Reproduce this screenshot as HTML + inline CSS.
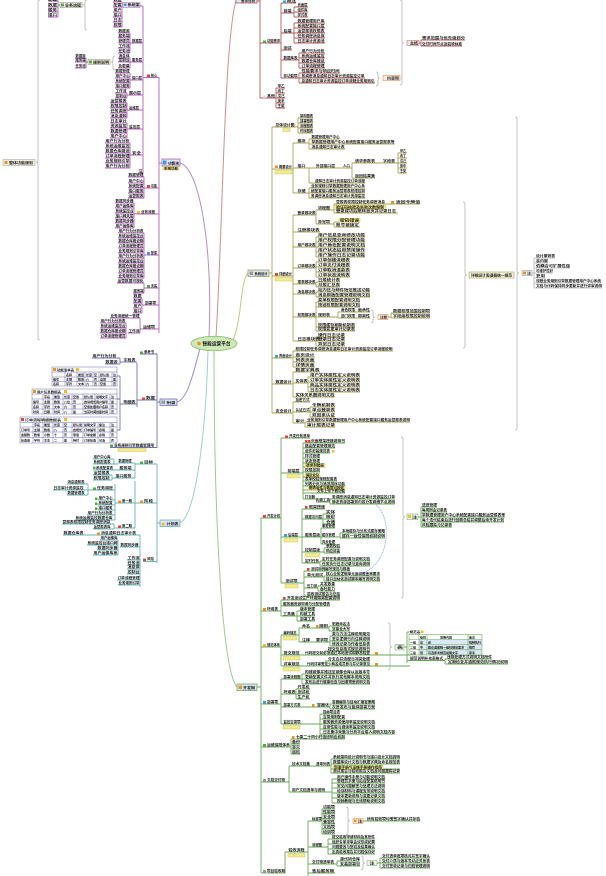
<!DOCTYPE html>
<html><head><meta charset="utf-8"><style>
html,body{margin:0;padding:0;background:#fff}
svg{display:block}
text{font-family:"Liberation Sans","Noto Sans CJK SC",sans-serif;font-size:3.5px;font-weight:bold;fill:#111}
.t text,text.t{font-size:3px}
.p{stroke:#b066b8;fill:none;stroke-width:.9}
.l{stroke:#7373b8;fill:none;stroke-width:.9}
.tl{stroke:#6ab3b6;fill:none;stroke-width:.9}
.b{stroke:#b35c5c;fill:none;stroke-width:.9}
.o{stroke:#aaa45a;fill:none;stroke-width:.9}
.g{stroke:#6aaa5a;fill:none;stroke-width:.9}
.gr{stroke:#b4b4b4;fill:none;stroke-width:.8}
.lab{fill:#f2ec8c;stroke:#c9b84a;stroke-width:.4}
.ir{fill:#e2452f}.ig{fill:#4caf3a}.ib{fill:#3d9be0}.io{fill:#f0901c}.iy{fill:#f0c020}.ik{fill:#999}
</style></head><body>
<svg width="606" height="876" viewBox="0 0 606 876" xmlns="http://www.w3.org/2000/svg">

<!-- central curves -->
<path d="M180 163 C200 168 213 250 209 337" stroke="#b88cc4" fill="none" stroke-width="1"/>
<path d="M216 336 C222 250 224 40 236 1" stroke="#c99090" fill="none" stroke-width="1"/>
<path d="M233 340 C242 320 240 282 248 273" stroke="#c8c48a" fill="none" stroke-width="1"/>
<path d="M200 348 C192 380 186 400 177 402" stroke="#9090c8" fill="none" stroke-width="1"/>
<path d="M208 350 C206 430 196 515 180 523" stroke="#9fd0d0" fill="none" stroke-width="1"/>
<path d="M214 350 C214 520 222 670 237 687" stroke="#9cc890" fill="none" stroke-width="1"/>

<!-- brackets -->
<path class="gr" d="M40 0 Q38 0 38 2 V160 Q38 162 36 162 Q38 162 38 164 V338 Q38 340 40 340"/>
<path class="gr" d="M87 0 Q85 0 85 2 V3 Q85 5 83 5 Q85 5 85 7 V28 Q85 30 87 30"/>
<path class="gr" d="M115 56 Q113 56 113 58 V60 Q113 62 111 62 Q113 62 113 64 V68 Q113 70 115 70"/>
<path class="gr" d="M376 72 Q378 72 378 74 V76 Q378 78 380 78 Q378 78 378 80 V84 Q378 86 376 86"/>
<path class="gr" d="M400 0 Q402 0 402 2 V41 Q402 43 404 43 Q402 43 402 45 V83 Q402 85 400 85"/>
<path class="gr" d="M463 202 Q465 202 465 204 V273 Q465 275 467 275 Q465 275 465 277 V346 Q465 348 463 348"/>
<path class="gr" d="M515 117 Q517 117 517 119 V271 Q517 273 519 273 Q517 273 517 275 V428 Q517 430 515 430"/>
<path class="gr" d="M371 310 Q373 310 373 312 V315 Q373 317 375 317 Q373 317 373 319 V321 Q373 323 371 323"/>
<path class="gr" d="M401 437 Q403 437 403 439 V515 Q403 517 405 517 Q403 517 403 519 V596 Q403 598 401 598"/>
<path class="gr" d="M388 623 Q390 623 390 625 V645 Q390 647 392 647 Q390 647 390 649 V668 Q390 670 388 670"/>
<path class="gr" d="M346 807 Q348 807 348 809 V819 Q348 821 350 821 Q348 821 348 823 V833 Q348 835 346 835"/>
<path class="gr" d="M361 856 Q363 856 363 858 V861 Q363 863 365 863 Q363 863 363 865 V868 Q363 870 361 870"/>

<!-- ================= PURPLE ================= -->
<path class="p" d="M143 6V173 M123 6H143 M143 77.5H159 M159 77V333 M159 163H162
M122 2V27 M113 2H122 M113 7H122 M113 12H122 M113 17H122 M113 22H122 M113 27H122
M130 43H143 M130 33V53 M118 33H130 M118 38H130 M118 43H130 M118 48H130 M118 53H130
M130 62H143 M130 58V68 M118 58H130 M118 62H130 M118 68H130
M86 58V68 M75 58H86 M75 62H88 M75 68H86
M130 80H143 M130 73V88 M115 73H130 M115 78H130 M115 83H130 M115 88H130
M127 95H143 M127 93V98 M115 93H127 M115 98H127
M127 110H143 M127 103V118 M110 103H127 M110 108H127 M110 113H127 M110 118H127
M127 129H143 M127 123V138 M110 123H127 M110 128H127 M110 133H127 M110 138H127
M130 155H143 M130 143V168 M105 143H130 M105 148H130 M105 153H130 M105 158H130 M105 163H130 M105 168H130
M138 173H143
M48 1H58 M48 7H58 M48 12H58 M48 17H58 M58 0V17 M58 5H60
M144 188H159 M144 177V198 M128 177H144 M128 183H144 M128 188H144 M128 193H144 M128 198H144
M134 214H159 M134 203V228 M115 203H134 M115 208H134 M115 213H134 M115 218H134 M115 223H134 M115 228H134
M144 255H159 M144 233V278 M118 233H144 M118 238H144 M118 243H144 M118 248H144 M118 253H144 M118 258H144 M118 263H144 M118 268H144 M118 273H144 M118 278H144
M144 288H159 M144 283V293 M117 283H144 M133 293H144
M142 305H159 M142 298V313 M133 298H142 M133 303H142 M133 308H142 M133 313H142
M140 329H159 M140 318V333 M110 318H140 M128 333H140 M126 323V338 M100 323H126 M100 328H126 M100 333H126 M100 338H126"/>
<g>
<text x="48" y="0.8" lengthAdjust="spacingAndGlyphs" textLength="9">功能</text>
<text x="48" y="6.1" lengthAdjust="spacingAndGlyphs" textLength="9">数据</text>
<text x="48" y="11.1" lengthAdjust="spacingAndGlyphs" textLength="9">服务</text>
<text x="48" y="16.1" lengthAdjust="spacingAndGlyphs" textLength="9">接口</text>
<rect x="60" y="2.5" width="22" height="5" fill="#f3f1dc" stroke="#888" stroke-width=".5"/><rect class="ig" x="61" y="3.5" width="3" height="3"/>
<text x="65" y="6.3" lengthAdjust="spacingAndGlyphs" textLength="16">业务流程</text>
<rect x="123" y="2.5" width="17" height="5" fill="#dce6f2" stroke="#b066b8" stroke-width=".5"/><rect class="ib" x="124" y="3.5" width="2.5" height="2.5"/>
<text x="127.5" y="6.2" lengthAdjust="spacingAndGlyphs" textLength="12">系统架</text>
<text x="113.5" y="1.1" lengthAdjust="spacingAndGlyphs" textLength="8">数据</text><text x="113.5" y="6.1" lengthAdjust="spacingAndGlyphs" textLength="8">配置</text><text x="113.5" y="11.1" lengthAdjust="spacingAndGlyphs" textLength="8">用户</text><text x="113.5" y="16.1" lengthAdjust="spacingAndGlyphs" textLength="8">接口</text><text x="113.5" y="21.1" lengthAdjust="spacingAndGlyphs" textLength="8">日志</text><text x="113.5" y="26.1" lengthAdjust="spacingAndGlyphs" textLength="8">权限</text>
<text x="132" y="42.1" lengthAdjust="spacingAndGlyphs" textLength="10">数据层</text>
<text x="118.5" y="32.1" lengthAdjust="spacingAndGlyphs" textLength="11">数据源</text><text x="118.5" y="37.1" lengthAdjust="spacingAndGlyphs" textLength="11">服务端</text><text x="118.5" y="42.1" lengthAdjust="spacingAndGlyphs" textLength="11">管理员</text><text x="118.5" y="47.1" lengthAdjust="spacingAndGlyphs" textLength="11">工作流</text><text x="118.5" y="52.1" lengthAdjust="spacingAndGlyphs" textLength="11">任务池</text>
<text x="132" y="61.1" lengthAdjust="spacingAndGlyphs" textLength="10">服务层</text>
<text x="118.5" y="57.1" lengthAdjust="spacingAndGlyphs" textLength="11">消息体</text><text x="118.5" y="61.1" lengthAdjust="spacingAndGlyphs" textLength="11">控制台</text><text x="118.5" y="67.1" lengthAdjust="spacingAndGlyphs" textLength="11">负载量</text>
<rect x="88" y="59.5" width="22" height="5" fill="#f3f1dc" stroke="#888" stroke-width=".5"/><rect class="ig" x="89" y="60.5" width="3" height="3"/>
<text x="93" y="63.3" lengthAdjust="spacingAndGlyphs" textLength="16">规则说明</text>
<text x="75.5" y="57.1" lengthAdjust="spacingAndGlyphs" textLength="10">数据源</text><text x="75.5" y="61.1" lengthAdjust="spacingAndGlyphs" textLength="10">服务端</text><text x="75.5" y="67.1" lengthAdjust="spacingAndGlyphs" textLength="10">任务池</text>
<text x="132" y="79.1" lengthAdjust="spacingAndGlyphs" textLength="10">接口层</text>
<text x="115.5" y="72.1" lengthAdjust="spacingAndGlyphs" textLength="14">数据管理</text><text x="115.5" y="77.1" lengthAdjust="spacingAndGlyphs" textLength="14">用户中心</text><text x="115.5" y="82.1" lengthAdjust="spacingAndGlyphs" textLength="14">系统配置</text><text x="115.5" y="87.1" lengthAdjust="spacingAndGlyphs" textLength="14">接口服务</text>
<text x="129" y="94.1" lengthAdjust="spacingAndGlyphs" textLength="12">展示层</text>
<text x="115.5" y="92.1" lengthAdjust="spacingAndGlyphs" textLength="11">工作流</text><text x="115.5" y="97.1" lengthAdjust="spacingAndGlyphs" textLength="11">控制台</text>
<text x="129" y="109.1" lengthAdjust="spacingAndGlyphs" textLength="10">运维层</text>
<text x="110.5" y="102.1" lengthAdjust="spacingAndGlyphs" textLength="16">运营报表</text><text x="110.5" y="107.1" lengthAdjust="spacingAndGlyphs" textLength="16">权限控制</text><text x="110.5" y="112.1" lengthAdjust="spacingAndGlyphs" textLength="16">任务调度</text><text x="110.5" y="117.1" lengthAdjust="spacingAndGlyphs" textLength="16">消息通知</text>
<text x="129" y="128.1" lengthAdjust="spacingAndGlyphs" textLength="11">监控层</text>
<text x="110.5" y="122.1" lengthAdjust="spacingAndGlyphs" textLength="16">日志审计</text><text x="110.5" y="127.1" lengthAdjust="spacingAndGlyphs" textLength="16">资源监控</text><text x="110.5" y="132.1" lengthAdjust="spacingAndGlyphs" textLength="16">数据管理</text><text x="110.5" y="137.1" lengthAdjust="spacingAndGlyphs" textLength="16">用户中心</text>
<text x="132" y="154.1" lengthAdjust="spacingAndGlyphs" textLength="9">安全</text>
<text x="105.5" y="142.1" lengthAdjust="spacingAndGlyphs" textLength="24">用户行为分析</text><text x="105.5" y="147.1" lengthAdjust="spacingAndGlyphs" textLength="24">系统运维监控</text><text x="105.5" y="152.1" lengthAdjust="spacingAndGlyphs" textLength="24">数据仓库建设</text><text x="105.5" y="157.1" lengthAdjust="spacingAndGlyphs" textLength="24">订单流程管理</text><text x="105.5" y="162.1" lengthAdjust="spacingAndGlyphs" textLength="24">业务规则引擎</text><text x="105.5" y="167.1" lengthAdjust="spacingAndGlyphs" textLength="24">用户行为分析</text>
<text x="138.5" y="172.1" lengthAdjust="spacingAndGlyphs" textLength="4">注</text>
<rect class="ir" x="147" y="74.5" width="3" height="2.5"/><text x="151" y="76.6" lengthAdjust="spacingAndGlyphs" textLength="6">核心</text>
<rect class="ir" x="147" y="185" width="3" height="2.5"/><text x="151" y="187.1" lengthAdjust="spacingAndGlyphs" textLength="6">功能</text>
<text x="128.5" y="176.1" lengthAdjust="spacingAndGlyphs" textLength="15">数据管理</text><text x="128.5" y="182.1" lengthAdjust="spacingAndGlyphs" textLength="15">用户中心</text><text x="128.5" y="187.1" lengthAdjust="spacingAndGlyphs" textLength="15">系统配置</text><text x="128.5" y="192.1" lengthAdjust="spacingAndGlyphs" textLength="15">接口服务</text><text x="128.5" y="197.1" lengthAdjust="spacingAndGlyphs" textLength="15">运营报表</text>
<rect class="iy" x="137" y="211" width="3" height="2.5"/><text x="141" y="213.1" lengthAdjust="spacingAndGlyphs" textLength="14">业务流程</text>
<text x="115.5" y="202.1" lengthAdjust="spacingAndGlyphs" textLength="18">数据同步器</text><text x="115.5" y="207.1" lengthAdjust="spacingAndGlyphs" textLength="18">用户画像库</text><text x="115.5" y="212.1" lengthAdjust="spacingAndGlyphs" textLength="18">系统监控台</text><text x="115.5" y="217.1" lengthAdjust="spacingAndGlyphs" textLength="18">接口网关层</text><text x="115.5" y="222.1" lengthAdjust="spacingAndGlyphs" textLength="18">数据同步器</text><text x="115.5" y="227.1" lengthAdjust="spacingAndGlyphs" textLength="18">用户画像库</text>
<rect class="ib" x="147" y="252" width="3" height="2.5"/><text x="151" y="254.1" lengthAdjust="spacingAndGlyphs" textLength="6">配置</text>
<text x="118.5" y="232.1" lengthAdjust="spacingAndGlyphs" textLength="25">用户行为分析表</text><text x="118.5" y="237.1" lengthAdjust="spacingAndGlyphs" textLength="25">系统运维监控台</text><text x="118.5" y="242.1" lengthAdjust="spacingAndGlyphs" textLength="25">数据仓库建设期</text><text x="118.5" y="247.1" lengthAdjust="spacingAndGlyphs" textLength="25">订单流程管理员</text><text x="118.5" y="252.1" lengthAdjust="spacingAndGlyphs" textLength="25">业务规则引擎库</text><text x="118.5" y="257.1" lengthAdjust="spacingAndGlyphs" textLength="25">用户行为分析表</text><text x="118.5" y="262.1" lengthAdjust="spacingAndGlyphs" textLength="25">系统运维监控台</text><text x="118.5" y="267.1" lengthAdjust="spacingAndGlyphs" textLength="25">数据仓库建设期</text><text x="118.5" y="272.1" lengthAdjust="spacingAndGlyphs" textLength="25">订单流程管理员</text><text x="118.5" y="277.1" lengthAdjust="spacingAndGlyphs" textLength="25">业务规则引擎库</text>
<rect class="ig" x="147" y="285" width="3" height="2.5"/><text x="151" y="287.1" lengthAdjust="spacingAndGlyphs" textLength="6">安装</text>
<text x="117.5" y="282.1" lengthAdjust="spacingAndGlyphs" textLength="26">运营数据可视化</text><text x="133.5" y="292.1" lengthAdjust="spacingAndGlyphs" textLength="10">服务端</text>
<text x="145" y="304.1" lengthAdjust="spacingAndGlyphs" textLength="11">部署项</text>
<text x="133.5" y="297.1" lengthAdjust="spacingAndGlyphs" textLength="8">数据</text><text x="133.5" y="302.1" lengthAdjust="spacingAndGlyphs" textLength="8">配置</text><text x="133.5" y="307.1" lengthAdjust="spacingAndGlyphs" textLength="8">用户</text><text x="133.5" y="312.1" lengthAdjust="spacingAndGlyphs" textLength="8">接口</text>
<text x="143" y="328.1" lengthAdjust="spacingAndGlyphs" textLength="12">运维项</text>
<text x="110.5" y="317.1" lengthAdjust="spacingAndGlyphs" textLength="29">业务流程统一管理</text><text x="128.5" y="332.1" lengthAdjust="spacingAndGlyphs" textLength="11">工作流</text>
<text x="100.5" y="322.1" lengthAdjust="spacingAndGlyphs" textLength="25">用户行为分析表</text><text x="100.5" y="327.1" lengthAdjust="spacingAndGlyphs" textLength="25">系统运维监控台</text><text x="100.5" y="332.1" lengthAdjust="spacingAndGlyphs" textLength="25">数据仓库建设期</text><text x="100.5" y="337.1" lengthAdjust="spacingAndGlyphs" textLength="25">订单流程管理员</text>
<rect x="162" y="159" width="18" height="7" fill="#dce6f2" stroke="#b066b8" stroke-width=".8"/><rect class="ib" x="163" y="160.5" width="3.5" height="4"/>
<text x="168" y="164.3" lengthAdjust="spacingAndGlyphs" textLength="11">功能块</text>
<rect class="lab" x="163" y="166.5" width="16" height="3.5"/><text class="t" x="164" y="169.3" lengthAdjust="spacingAndGlyphs" textLength="14">系统功能</text>
<rect x="3" y="159.5" width="32" height="6" fill="#f4f2e0" stroke="#999" stroke-width=".5"/><rect class="io" x="4.5" y="161" width="3" height="3"/>
<text x="9" y="164" lengthAdjust="spacingAndGlyphs" textLength="24">整体功能规划</text>
</g>

<!-- ================= LAVENDER ================= -->
<path class="l" d="M157 354V448 M157 402H160 M140 354H157 M137 400H157 M137 363V407
M120 362H137 M120 358V364 M92 358H120 M105 364H120 M120 404H137
M120 376V430 M117 376H120 M117 399H120 M117 430H120 M110 447.5H157"/>
<rect x="160" y="399" width="17" height="6.5" fill="#dce6f2" stroke="#7373b8" stroke-width=".8"/><rect class="ik" x="161.5" y="400.5" width="3.5" height="3.5"/>
<text x="166.5" y="404" lengthAdjust="spacingAndGlyphs" textLength="9">附录</text>
<rect class="ig" x="140" y="351.5" width="3" height="2.5"/><text x="144" y="353.1" lengthAdjust="spacingAndGlyphs" textLength="10">参考书</text>
<rect class="ir" x="142" y="397.5" width="3" height="2.5"/><text x="146" y="399.1" lengthAdjust="spacingAndGlyphs" textLength="9">数据</text>
<text x="123.5" y="361.1" lengthAdjust="spacingAndGlyphs" textLength="12">字段表</text>
<text x="92.5" y="357.1" lengthAdjust="spacingAndGlyphs" textLength="24">用户行为分析</text><text x="105.5" y="363.1" lengthAdjust="spacingAndGlyphs" textLength="12">数据源</text>
<text x="123.5" y="403.1" lengthAdjust="spacingAndGlyphs" textLength="12">明细表</text>
<rect class="ig" x="110" y="444.5" width="3" height="2.5"/><text x="114" y="446.6" lengthAdjust="spacingAndGlyphs" textLength="40">业务规则引擎数据管理用</text>
<rect class="lab" x="118" y="448.5" width="28" height="3"/>
<!-- tables -->
<g stroke="#6a6ab0" stroke-width=".5" fill="none">
<rect x="52" y="367" width="65" height="19" fill="#fff"/>
<path d="M52 372H117 M52 377H117 M52 381.5H117 M65 372V386 M77 372V386 M85 372V386 M93 372V386 M99 372V386 M112 372V386"/>
<rect x="32" y="389" width="85" height="25" fill="#fff"/>
<path d="M32 394H117 M32 399H117 M32 404H117 M32 409H117 M43 394V414 M53 394V414 M63 394V414 M72 394V414 M83 394V414 M95 394V414 M110 394V414"/>
<rect x="20" y="417" width="97" height="26" fill="#fff"/>
<path d="M20 422.5H117 M20 427H117 M20 432H117 M20 437.5H117 M33 422.5V443 M43 422.5V443 M53 422.5V443 M63 422.5V443 M72 422.5V443 M83 422.5V443 M98 422.5V443 M110 422.5V443"/>
</g>
<g class="t">
<rect class="io" x="53" y="368" width="3" height="3"/><text x="57" y="370.8" lengthAdjust="spacingAndGlyphs" textLength="17">功能清单表</text><rect class="iy" x="76" y="368" width="3" height="3"/>
<text y="375.9"><tspan x="66">名称</tspan><tspan x="78">类型</tspan><tspan x="86">长度</tspan><tspan x="94">空</tspan><tspan x="100">默认值</tspan><tspan x="113">注</tspan></text>
<text y="380.4"><tspan x="53">编号</tspan><tspan x="66">主键</tspan><tspan x="78">数值</tspan><tspan x="86">八</tspan><tspan x="94">否</tspan><tspan x="100">自增</tspan><tspan x="113">是</tspan></text>
<text y="384.9"><tspan x="53">名称</tspan><tspan x="66">字符</tspan><tspan x="78">文本</tspan><tspan x="86">六</tspan><tspan x="94">否</tspan><tspan x="100">空值</tspan><tspan x="113">否</tspan></text>
<rect class="io" x="33" y="390" width="3" height="3"/><text x="37" y="392.8" lengthAdjust="spacingAndGlyphs" textLength="24">用户信息数据表</text><rect class="iy" x="64" y="390" width="3" height="3"/>
<text y="397.9"><tspan x="44">字段</tspan><tspan x="54">类型</tspan><tspan x="64">长度</tspan><tspan x="73">空值</tspan><tspan x="84">默认值</tspan><tspan x="96">说明文字</tspan><tspan x="111">注</tspan></text>
<text y="402.8"><tspan x="33">编号</tspan><tspan x="44">主键</tspan><tspan x="54">数值</tspan><tspan x="64">八位</tspan><tspan x="73">否</tspan><tspan x="84">自动增长</tspan><tspan x="96">用户编号</tspan><tspan x="111">是</tspan></text>
<text y="407.8"><tspan x="33">名称</tspan><tspan x="44">字符</tspan><tspan x="54">文本</tspan><tspan x="64">六</tspan><tspan x="73">否</tspan><tspan x="84">空值处理</tspan><tspan x="96">用户名称</tspan><tspan x="111">否</tspan></text>
<text y="412.8"><tspan x="33">时间</tspan><tspan x="44">日期</tspan><tspan x="54">时间</tspan><tspan x="64">八</tspan><tspan x="73">是</tspan><tspan x="84">当前时间</tspan><tspan x="96">创建时间</tspan><tspan x="111">否</tspan></text>
<rect class="ir" x="21" y="418" width="3" height="3"/><text x="25" y="420.8" lengthAdjust="spacingAndGlyphs" textLength="36">订单流程明细数据表</text><rect class="iy" x="64" y="418" width="3" height="3"/>
<text y="426"><tspan x="34">字段</tspan><tspan x="44">类型</tspan><tspan x="54">长度</tspan><tspan x="64">空</tspan><tspan x="73">默认值</tspan><tspan x="84">说明文字</tspan><tspan x="99">备注</tspan><tspan x="111">注</tspan></text>
<text y="430.8"><tspan x="21">订单号</tspan><tspan x="34">主键</tspan><tspan x="44">数值</tspan><tspan x="54">八</tspan><tspan x="64">否</tspan><tspan x="73">自增长</tspan><tspan x="84">订单编号</tspan><tspan x="99">必填</tspan><tspan x="111">是</tspan></text>
<text y="436.2"><tspan x="21">金额数</tspan><tspan x="34">数值</tspan><tspan x="44">小数</tspan><tspan x="54">十</tspan><tspan x="64">否</tspan><tspan x="73">零值</tspan><tspan x="84">订单金额</tspan><tspan x="99">必填</tspan><tspan x="111">否</tspan></text>
<text y="441.7"><tspan x="21">状态值</tspan><tspan x="34">字符</tspan><tspan x="44">文本</tspan><tspan x="54">二</tspan><tspan x="64">是</tspan><tspan x="73">待付</tspan><tspan x="84">订单状态</tspan><tspan x="99">可选</tspan><tspan x="111">否</tspan></text>
</g>

<!-- ================= TEAL ================= -->
<path class="tl" d="M157 464V563 M157 523H160 M135 464H157 M135 463V478
M118 463H135 M114 459V464 M93 459H114 M93 464H118 M93 470H135 M115 478H135 M112 475V480 M93 475H112 M93 480H112 M112 478H115
M135 503H157 M135 481V528 M115 503H135 M115 484V520 M88 490H115 M88 484V495 M67 484H88 M53 490H88 M67 495H88
M98 500H115 M98 505H115 M98 510H115 M87 515H115 M75 520H115
M114 528H135 M114 524V529 M62 524H114 M93 529H114
M143 561.5H157 M140 535V587 M63 535H140 M120 547H140 M118 540V555 M100 540H118 M87 545H118 M97 550H118 M93 555H118
M127 560H140 M127 565H140 M127 569H140 M127 574H140 M117 580H140 M118 585H140"/>
<rect x="160" y="520" width="20" height="6.5" fill="#dce6f2" stroke="#6ab3b6" stroke-width=".8"/>
<text x="161" y="525.6" style="font-size:4.6px;fill:#f0a020">★</text><text x="166.5" y="524.8" lengthAdjust="spacingAndGlyphs" textLength="12">计划表</text>
<rect class="ig" x="140" y="461.5" width="3" height="2.5"/><text x="144" y="463.1" lengthAdjust="spacingAndGlyphs" textLength="9">目标</text>
<text x="118.5" y="462.1" lengthAdjust="spacingAndGlyphs" textLength="13">数据管理</text><text x="93.5" y="458.1" lengthAdjust="spacingAndGlyphs" textLength="17">用户中心库</text><text x="93.5" y="463.1" lengthAdjust="spacingAndGlyphs" textLength="17">系统配置表</text>
<text x="119.5" y="469.1" lengthAdjust="spacingAndGlyphs" textLength="12">服务端</text><text x="96" y="469.1" lengthAdjust="spacingAndGlyphs" textLength="17">系统配置表</text><rect class="ig" x="93" y="466.5" width="2.5" height="2.5"/>
<text x="115.5" y="477.1" lengthAdjust="spacingAndGlyphs" textLength="16">接口服务</text><text x="93.5" y="474.1" lengthAdjust="spacingAndGlyphs" textLength="16">运营报表</text><text x="93.5" y="479.1" lengthAdjust="spacingAndGlyphs" textLength="16">权限控制</text>
<rect class="io" x="140" y="500.5" width="3" height="2.5"/><text x="144" y="502.1" lengthAdjust="spacingAndGlyphs" textLength="9">阶段</text>
<rect class="io" x="118" y="500.5" width="3" height="2.5"/><text x="122" y="502.1" lengthAdjust="spacingAndGlyphs" textLength="10">第一期</text>
<rect class="ig" x="93" y="487.5" width="3" height="2.5"/><text x="97" y="489.1" lengthAdjust="spacingAndGlyphs" textLength="16">任务调度</text>
<text x="67.5" y="483.1" lengthAdjust="spacingAndGlyphs" textLength="17">消息通知表</text><text x="53.5" y="489.1" lengthAdjust="spacingAndGlyphs" textLength="30">日志审计资源监控</text><text x="67.5" y="494.1" lengthAdjust="spacingAndGlyphs" textLength="17">数据管理表</text>
<rect class="ig" x="95" y="497.5" width="2.5" height="2.5"/><text x="98.5" y="499.1" lengthAdjust="spacingAndGlyphs" textLength="14">用户中心</text>
<rect class="ig" x="95" y="502.5" width="2.5" height="2.5"/><text x="98.5" y="504.1" lengthAdjust="spacingAndGlyphs" textLength="14">系统配置</text>
<rect class="ig" x="95" y="507.5" width="2.5" height="2.5"/><text x="98.5" y="509.1" lengthAdjust="spacingAndGlyphs" textLength="14">接口服务</text>
<text x="87.5" y="514.1" lengthAdjust="spacingAndGlyphs" textLength="25">用户行为分析表</text><text x="75.5" y="519.1" lengthAdjust="spacingAndGlyphs" textLength="37">系统运维监控数据仓库</text>
<rect class="ir" x="118" y="525.5" width="3" height="2.5"/><text x="122" y="527.1" lengthAdjust="spacingAndGlyphs" textLength="10">第二期</text>
<text x="62.5" y="523.1" lengthAdjust="spacingAndGlyphs" textLength="48">营报表权限控制任务调度消息</text><text x="93.5" y="528.1" lengthAdjust="spacingAndGlyphs" textLength="17">运营报表库</text>
<rect class="ir" x="143" y="558.5" width="3" height="2.5"/><text x="147" y="560.1" lengthAdjust="spacingAndGlyphs" textLength="7">风险</text>
<rect class="io" x="97" y="532.5" width="3" height="2.5"/><text x="101" y="534.1" lengthAdjust="spacingAndGlyphs" textLength="35">消息通知日志审计表</text><text x="63.5" y="534.1" lengthAdjust="spacingAndGlyphs" textLength="20">数据仓库表</text>
<text x="120.5" y="546.1" lengthAdjust="spacingAndGlyphs" textLength="18">数据同步器</text>
<text x="100.5" y="539.1" lengthAdjust="spacingAndGlyphs" textLength="17">用户画像库</text><text x="87.5" y="544.1" lengthAdjust="spacingAndGlyphs" textLength="30">系统监控台接口网</text><text x="97.5" y="549.1" lengthAdjust="spacingAndGlyphs" textLength="20">数据同步器</text><text x="93.5" y="554.1" lengthAdjust="spacingAndGlyphs" textLength="24">用户画像库系</text>
<text x="127.5" y="559.1" lengthAdjust="spacingAndGlyphs" textLength="12">工作流</text><text x="127.5" y="564.1" lengthAdjust="spacingAndGlyphs" textLength="12">任务池</text><text x="127.5" y="568.1" lengthAdjust="spacingAndGlyphs" textLength="12">消息体</text><text x="127.5" y="573.1" lengthAdjust="spacingAndGlyphs" textLength="12">控制台</text><text x="117.5" y="579.1" lengthAdjust="spacingAndGlyphs" textLength="22">订单流程管理</text><text x="118.5" y="584.1" lengthAdjust="spacingAndGlyphs" textLength="21">业务规则引擎</text>

<!-- ================= BROWN ================= -->
<path class="b" d="M260 0V98 M257 1H260 M260 43H281 M281 3V78 M281 3H296
M281 13H294 M294 7V17 M294 7H308 M294 12H308 M294 17H308
M281 33H294 M294 23V43 M294 23H325 M294 28H325 M294 33H325 M294 38H325 M294 43H325
M281 50H292 M281 60H299 M299 53V68 M299 53H325 M299 58H325 M299 63H325 M299 68H325
M281 78H299 M299 73V83 M299 73H340 M299 78H365 M299 83H375
M419 43H421 M421 40V46 M421 40H465 M421 46H462
M260 98H276 M276 88V108 M276 88H285 M276 93H285 M276 98H285 M276 103H285 M276 108H285"/>
<rect x="236" y="-2" width="21" height="5" fill="#dce6f2" stroke="#b35c5c" stroke-width=".8"/><text x="241" y="2.2" lengthAdjust="spacingAndGlyphs" textLength="14">需求分析</text>
<rect class="ig" x="263" y="40.5" width="3" height="2.5"/><text x="267" y="42.1" lengthAdjust="spacingAndGlyphs" textLength="13">功能需求</text>
<rect class="ib" x="283" y="0.5" width="3" height="2.5"/><text x="287" y="2.1" lengthAdjust="spacingAndGlyphs" textLength="9">概述</text>
<text x="283.5" y="12.1" lengthAdjust="spacingAndGlyphs" textLength="8">前端</text><text x="297.5" y="6.1" lengthAdjust="spacingAndGlyphs" textLength="10">页面层</text><text x="297.5" y="11.1" lengthAdjust="spacingAndGlyphs" textLength="10">组件库</text><text x="297.5" y="16.1" lengthAdjust="spacingAndGlyphs" textLength="10">样式表</text>
<text x="283.5" y="32.1" lengthAdjust="spacingAndGlyphs" textLength="8">后端</text>
<text x="297.5" y="22.1" lengthAdjust="spacingAndGlyphs" textLength="27">数据管理用户库</text><text x="297.5" y="27.1" lengthAdjust="spacingAndGlyphs" textLength="27">系统配置接口层</text><text x="297.5" y="32.1" lengthAdjust="spacingAndGlyphs" textLength="27">运营报表权限表</text><text x="297.5" y="37.1" lengthAdjust="spacingAndGlyphs" textLength="27">任务调度消息体</text><text x="297.5" y="42.1" lengthAdjust="spacingAndGlyphs" textLength="27">日志审计资源池</text>
<text x="283.5" y="49.1" lengthAdjust="spacingAndGlyphs" textLength="8">测试</text>
<text x="283.5" y="59.1" lengthAdjust="spacingAndGlyphs" textLength="14">数据库表</text>
<text x="301.5" y="52.1" lengthAdjust="spacingAndGlyphs" textLength="23">用户行为分析</text><text x="301.5" y="57.1" lengthAdjust="spacingAndGlyphs" textLength="23">系统运维监控</text><text x="301.5" y="62.1" lengthAdjust="spacingAndGlyphs" textLength="23">数据仓库建设</text><text x="301.5" y="67.1" lengthAdjust="spacingAndGlyphs" textLength="23">订单流程管理</text>
<text x="283.5" y="77.1" lengthAdjust="spacingAndGlyphs" textLength="14">非功能项</text>
<text x="301.5" y="72.1" lengthAdjust="spacingAndGlyphs" textLength="38">性能要求与响应时间</text><text x="301.5" y="77.1" lengthAdjust="spacingAndGlyphs" textLength="63">务调度消息通知日志审计资源监控订单</text><text x="301.5" y="82.1" lengthAdjust="spacingAndGlyphs" textLength="73">息通知日志审计资源监控订单流程业务规则引</text>
<rect x="383" y="75.5" width="17" height="5" fill="#fbeee0" stroke="#e08040" stroke-width=".5"/><text x="387" y="79.3" lengthAdjust="spacingAndGlyphs" textLength="12">约束项</text>
<rect x="407" y="40.5" width="12" height="5" fill="#f6e8e8" stroke="#b35c5c" stroke-width=".5"/><text x="410" y="44.3" lengthAdjust="spacingAndGlyphs" textLength="8">总结</text>
<text x="422" y="39.1" lengthAdjust="spacingAndGlyphs" textLength="43">需求范围与优先级划分</text><text x="422" y="45.1" lengthAdjust="spacingAndGlyphs" textLength="40">交付时间节点及验收标准</text>
<rect fill="#ddd" x="263" y="95.5" width="3" height="2.5"/><text x="267" y="97.1" lengthAdjust="spacingAndGlyphs" textLength="8">其他</text>
<text x="277.5" y="87.1" lengthAdjust="spacingAndGlyphs" textLength="7">甲乙</text><text x="277.5" y="92.1" lengthAdjust="spacingAndGlyphs" textLength="7">丙丁</text><text x="277.5" y="97.1" lengthAdjust="spacingAndGlyphs" textLength="7">戊己</text><text x="277.5" y="102.1" lengthAdjust="spacingAndGlyphs" textLength="7">庚辛</text><text x="277.5" y="107.1" lengthAdjust="spacingAndGlyphs" textLength="7">壬癸</text>

<!-- ================= OLIVE ================= -->
<path class="o" d="M272 127V413 M269 273H272
M272 127H298 M298 118V133 M298 118H313 M298 123H313 M298 128H313 M298 133H313
M272 169H293 M293 143V193 M293 143H309 M309 139V149 M309 139H340 M309 144H395 M309 149H345
M293 168H309 M309 168V183 M309 168H352 M352 163V178 M352 163H398 M352 178H375 M398 153V173 M398 153H407 M398 158H407 M398 163H407 M398 168H407 M398 173H407 M309 183H365
M293 193H309 M309 188V198 M309 188H365 M309 193H365 M309 198H365
M272 276H293 M293 215V341
M293 215H316 M316 210V224 M316 210H334 M334 204V213 M334 204H420 M334 209H386 M334 213H398 M316 224H334 M334 222V227 M334 222H360 M334 227H360
M293 232H320
M293 247H316 M316 237V257 M316 237H365 M316 242H365 M316 247H365 M316 252H365 M316 257H365
M293 268H316 M316 262V277 M316 262H350 M316 267H350 M316 272H350 M316 277H350
M293 284H316 M316 282V287 M316 282H340 M316 287H340
M293 294H316 M316 292V297 M316 292H370 M316 297H370
M293 317H316 M316 302V331 M316 302H360 M316 307H360 M316 317H338 M338 312V318 M338 312H370 M338 318H370 M388 317H391 M391 313V318 M391 313H430 M391 318H430 M316 327H355 M316 331H355
M293 341H316 M316 337V346 M316 337H345 M316 341H345 M316 346H345
M272 358H293 M293 351V367 M293 351H393 M293 357H315 M293 362H315 M293 367H315
M272 384H293 M293 372V397 M293 372H320 M293 383H308 M308 377V392 M308 377H360 M308 382H360 M308 387H360 M308 392H360 M293 397H335
M272 413H293 M293 402V423 M293 402H310 M293 412H310 M310 407V417 M310 407H335 M310 412H335 M310 417H335 M293 423H305 M305 422V427 M305 422H410 M305 427H335"/>
<path class="gr" d="M532 273H534 M534 258V288 M534 258H555 M534 263H548 M534 268H570 M534 273H553 M534 278H545 M534 283H601 M534 288H602"/>
<rect x="248" y="270" width="21" height="6.5" fill="#dce6f2" stroke="#9aa060" stroke-width=".8"/><rect class="ik" x="249.5" y="271.5" width="3.5" height="3.5"/><text x="254.5" y="275" lengthAdjust="spacingAndGlyphs" textLength="13">系统设计</text>
<text x="275.5" y="126.1" lengthAdjust="spacingAndGlyphs" textLength="19">总体设计图</text><rect class="lab" x="283" y="128" width="7" height="3.5"/>
<text x="300" y="117.1" lengthAdjust="spacingAndGlyphs" textLength="13">架构图表</text><text x="300" y="122.1" lengthAdjust="spacingAndGlyphs" textLength="13">部署图表</text><text x="300" y="127.1" lengthAdjust="spacingAndGlyphs" textLength="13">流程图表</text><text x="300" y="132.1" lengthAdjust="spacingAndGlyphs" textLength="13">时序图表</text>
<rect class="io" x="275" y="165.5" width="3" height="2.5"/><text x="279" y="168.1" lengthAdjust="spacingAndGlyphs" textLength="13">概要设计</text><rect class="lab" x="275" y="170.5" width="17" height="3.5"/>
<text x="297.5" y="142.1" lengthAdjust="spacingAndGlyphs" textLength="8">模块</text><text x="311.5" y="138.1" lengthAdjust="spacingAndGlyphs" textLength="28">数据管理用户中心</text><text x="311.5" y="143.1" lengthAdjust="spacingAndGlyphs" textLength="83">擎数据管理用户中心系统配置接口服务运营报表等</text><text x="311.5" y="148.1" lengthAdjust="spacingAndGlyphs" textLength="33">消息通知日志审计表</text>
<text x="297.5" y="167.1" lengthAdjust="spacingAndGlyphs" textLength="8">接口</text><text x="316" y="167.1" lengthAdjust="spacingAndGlyphs" textLength="19">外部接口层</text><text x="343" y="167.1" lengthAdjust="spacingAndGlyphs" textLength="7">入口</text>
<text x="355" y="162.1" lengthAdjust="spacingAndGlyphs" textLength="20">请求参数表</text><text x="355" y="177.1" lengthAdjust="spacingAndGlyphs" textLength="20">返回结果集</text><text x="383" y="162.1" lengthAdjust="spacingAndGlyphs" textLength="12">字段表</text>
<text x="400" y="152.1" lengthAdjust="spacingAndGlyphs" textLength="6">甲乙</text><text x="400" y="157.1" lengthAdjust="spacingAndGlyphs" textLength="6">丙丁</text><text x="400" y="162.1" lengthAdjust="spacingAndGlyphs" textLength="6">戊己</text><text x="400" y="167.1" lengthAdjust="spacingAndGlyphs" textLength="6">庚辛</text><text x="400" y="172.1" lengthAdjust="spacingAndGlyphs" textLength="6">壬癸</text>
<text x="315" y="182.1" lengthAdjust="spacingAndGlyphs" textLength="50">通知日志审计资源监控订单流程</text>
<text x="297.5" y="192.1" lengthAdjust="spacingAndGlyphs" textLength="8">存储</text><text x="311" y="187.1" lengthAdjust="spacingAndGlyphs" textLength="54">业务规则引擎数据管理用户中心系</text><text x="311" y="192.1" lengthAdjust="spacingAndGlyphs" textLength="54">统配置接口服务运营报表权限控制</text><text x="311" y="197.1" lengthAdjust="spacingAndGlyphs" textLength="54">务调度消息通知日志审计资源监控</text>
<rect class="ir" x="275" y="273" width="3" height="2.5"/><text x="279" y="275.1" lengthAdjust="spacingAndGlyphs" textLength="13">详细设计</text><rect class="lab" x="275" y="277.5" width="17" height="3.5"/>
<text x="297.5" y="214.1" lengthAdjust="spacingAndGlyphs" textLength="18">登录模块表</text><text x="318" y="209.1" lengthAdjust="spacingAndGlyphs" textLength="12">流程图</text>
<text x="336" y="203.1" lengthAdjust="spacingAndGlyphs" textLength="49">营报表权限控制任务调度消息</text><rect class="io" x="391" y="201" width="3" height="2.5"/><text x="396" y="203.1" lengthAdjust="spacingAndGlyphs" textLength="24">返回令牌值</text>
<rect class="lab" x="334" y="205.3" width="52" height="4"/><text x="336" y="208.3" lengthAdjust="spacingAndGlyphs" textLength="48">验证码校验及失败次数限制</text>
<text x="336" y="212.1" lengthAdjust="spacingAndGlyphs" textLength="60">登录成功后跳转首页并记录日志</text>
<text x="318" y="223.1" lengthAdjust="spacingAndGlyphs" textLength="12">异常项</text><rect class="lab" x="339" y="218.3" width="21" height="4"/><text x="340" y="221.3" lengthAdjust="spacingAndGlyphs" textLength="19">密码错误</text><text x="336" y="226.1" lengthAdjust="spacingAndGlyphs" textLength="23">账号被锁定</text>
<text x="297.5" y="231.1" lengthAdjust="spacingAndGlyphs" textLength="22">注册模块表</text>
<text x="297.5" y="246.1" lengthAdjust="spacingAndGlyphs" textLength="18">用户模块表</text>
<text x="318" y="236.1" lengthAdjust="spacingAndGlyphs" textLength="47">用户信息查询修改功能</text><text x="318" y="241.1" lengthAdjust="spacingAndGlyphs" textLength="47">用户权限分配管理功能</text><text x="318" y="246.1" lengthAdjust="spacingAndGlyphs" textLength="47">用户角色配置说明文档</text><text x="318" y="251.1" lengthAdjust="spacingAndGlyphs" textLength="47">用户状态启用禁用操作</text><text x="318" y="256.1" lengthAdjust="spacingAndGlyphs" textLength="47">用户操作日志记录功能</text>
<text x="297.5" y="267.1" lengthAdjust="spacingAndGlyphs" textLength="18">订单模块表</text>
<text x="318" y="261.1" lengthAdjust="spacingAndGlyphs" textLength="32">订单创建流程表</text><text x="318" y="266.1" lengthAdjust="spacingAndGlyphs" textLength="32">订单支付流程表</text><text x="318" y="271.1" lengthAdjust="spacingAndGlyphs" textLength="32">订单取消退款表</text><text x="318" y="276.1" lengthAdjust="spacingAndGlyphs" textLength="32">订单状态流转表</text>
<text x="297.5" y="283.1" lengthAdjust="spacingAndGlyphs" textLength="18">报表模块表</text><text x="318" y="281.1" lengthAdjust="spacingAndGlyphs" textLength="22">日报统计表</text><text x="318" y="286.1" lengthAdjust="spacingAndGlyphs" textLength="22">月报汇总表</text>
<text x="297.5" y="293.1" lengthAdjust="spacingAndGlyphs" textLength="18">消息模块表</text><text x="318" y="291.1" lengthAdjust="spacingAndGlyphs" textLength="52">站内信与邮件短信推送功能</text><text x="318" y="296.1" lengthAdjust="spacingAndGlyphs" textLength="52">消息模板配置管理说明文档</text>
<text x="297.5" y="316.1" lengthAdjust="spacingAndGlyphs" textLength="18">权限模块表</text><text x="318" y="301.1" lengthAdjust="spacingAndGlyphs" textLength="42">菜单权限配置说明文档</text><text x="318" y="306.1" lengthAdjust="spacingAndGlyphs" textLength="42">按钮权限配置说明文档</text>
<text x="318" y="316.1" lengthAdjust="spacingAndGlyphs" textLength="12">规则表</text><text x="341" y="311.1" lengthAdjust="spacingAndGlyphs" textLength="14">角色权限</text><text x="341" y="317.1" lengthAdjust="spacingAndGlyphs" textLength="14">部门权限</text><text x="358" y="311.1" lengthAdjust="spacingAndGlyphs" textLength="12">继承性</text><text x="358" y="317.1" lengthAdjust="spacingAndGlyphs" textLength="12">隔离性</text>
<rect x="378" y="314.5" width="10" height="5" fill="#fbeee0" stroke="#e08040" stroke-width=".5"/><text x="380" y="318.3" lengthAdjust="spacingAndGlyphs" textLength="7">注释</text>
<text x="393" y="312.1" lengthAdjust="spacingAndGlyphs" textLength="37">数据权限范围控制项</text><text x="393" y="317.1" lengthAdjust="spacingAndGlyphs" textLength="37">字段级权限控制说明</text>
<text x="318" y="326.1" lengthAdjust="spacingAndGlyphs" textLength="37">权限缓存刷新机制表</text><text x="318" y="330.1" lengthAdjust="spacingAndGlyphs" textLength="37">权限变更审计记录表</text>
<text x="297.5" y="340.1" lengthAdjust="spacingAndGlyphs" textLength="22">日志模块表</text><text x="318" y="336.1" lengthAdjust="spacingAndGlyphs" textLength="27">操作日志记录</text><text x="318" y="340.1" lengthAdjust="spacingAndGlyphs" textLength="27">登录日志记录</text><text x="318" y="345.1" lengthAdjust="spacingAndGlyphs" textLength="27">异常日志记录</text>
<rect class="ib" x="275" y="355" width="3" height="2.5"/><text x="279" y="357.1" lengthAdjust="spacingAndGlyphs" textLength="13">界面设计</text>
<text x="295.5" y="350.1" lengthAdjust="spacingAndGlyphs" textLength="97">权限控制任务调度消息通知日志审计资源监控订单流程说明</text><text x="295.5" y="356.1" lengthAdjust="spacingAndGlyphs" textLength="19">首页设计</text><text x="295.5" y="361.1" lengthAdjust="spacingAndGlyphs" textLength="19">列表页面</text><text x="295.5" y="366.1" lengthAdjust="spacingAndGlyphs" textLength="19">详情页面</text>
<text x="275.5" y="383.1" lengthAdjust="spacingAndGlyphs" textLength="16">数据设计</text><text x="295.5" y="371.1" lengthAdjust="spacingAndGlyphs" textLength="24">数据字典表</text><text x="295.5" y="382.1" lengthAdjust="spacingAndGlyphs" textLength="12">实体表</text>
<text x="310" y="376.1" lengthAdjust="spacingAndGlyphs" textLength="50">用户实体属性定义说明表</text><text x="310" y="381.1" lengthAdjust="spacingAndGlyphs" textLength="50">订单实体属性定义说明表</text><text x="310" y="386.1" lengthAdjust="spacingAndGlyphs" textLength="50">商品实体属性定义说明表</text><text x="310" y="391.1" lengthAdjust="spacingAndGlyphs" textLength="50">日志实体属性定义说明表</text>
<text x="295.5" y="396.1" lengthAdjust="spacingAndGlyphs" textLength="39">实体关系图说明文档</text>
<text x="275.5" y="412.1" lengthAdjust="spacingAndGlyphs" textLength="16">安全设计</text><text x="295.5" y="401.1" lengthAdjust="spacingAndGlyphs" textLength="14">加密方式</text><text x="295.5" y="411.1" lengthAdjust="spacingAndGlyphs" textLength="14">认证方式</text>
<text x="312" y="406.1" lengthAdjust="spacingAndGlyphs" textLength="23">令牌机制表</text><text x="312" y="411.1" lengthAdjust="spacingAndGlyphs" textLength="23">单点登录表</text><text x="312" y="416.1" lengthAdjust="spacingAndGlyphs" textLength="23">双因素认证</text>
<text x="295.5" y="422.1" lengthAdjust="spacingAndGlyphs" textLength="9">审计</text><text x="307" y="421.1" lengthAdjust="spacingAndGlyphs" textLength="103">业务规则引擎数据管理用户中心系统配置接口服务运营报表说明</text><text x="307" y="426.1" lengthAdjust="spacingAndGlyphs" textLength="28">审计报表记录</text>
<rect x="469" y="272" width="45" height="6" fill="#f5f3dc" stroke="#a8a050" stroke-width=".6"/><text x="471" y="276.3" lengthAdjust="spacingAndGlyphs" textLength="41">详细设计需遵循统一规范</text>
<rect x="522" y="270.5" width="10" height="5" fill="#f4f4f4" stroke="#888" stroke-width=".5"/><rect class="io" x="523" y="271.5" width="3" height="3"/><text x="527" y="274.6" lengthAdjust="spacingAndGlyphs" textLength="4">注</text>
<text x="536" y="257.1" lengthAdjust="spacingAndGlyphs" textLength="19">设计原则表</text><text x="536" y="262.1" lengthAdjust="spacingAndGlyphs" textLength="12">高内聚</text><text x="536" y="267.1" lengthAdjust="spacingAndGlyphs" textLength="34">低耦合可扩展性强</text><text x="536" y="272.1" lengthAdjust="spacingAndGlyphs" textLength="17">可维护性好</text><text x="536" y="277.1" lengthAdjust="spacingAndGlyphs" textLength="9">复用</text><text x="536" y="282.1" lengthAdjust="spacingAndGlyphs" textLength="65">流程业务规则引擎数据管理用户中心系统</text><text x="536" y="287.1" lengthAdjust="spacingAndGlyphs" textLength="66">文档与代码保持同步更新并进行评审说明</text>

<!-- ================= GREEN ================= -->
<path class="g" d="M261 518V873 M257 687H261
M261 518H281 M281 438V583 M281 438H310
M281 473H303 M303 443V499 M303 443H345 M303 448H335 M303 453H330 M303 458H320 M303 463H320 M303 467H325 M303 472H320 M303 477H320 M303 481H337 M303 486H345 M303 490H345 M303 493H345 M303 499H316 M316 502H330 M330 499V504 M330 499H395 M330 504H395
M281 537H302 M302 509V563 M302 509H325 M302 519H323 M323 514V524 M323 514H335 M323 519H335 M323 524H335
M302 537H321 M321 528V544 M321 528H335 M321 537H340 M340 533V538 M340 533H385 M340 538H385 M321 544H335
M302 552H324 M324 548V553 M324 548H340 M324 553H340 M302 563H320 M320 561V566 M320 561H370 M320 566H370
M281 583H304 M304 571V596 M304 571H350 M304 577H324 M324 576V581 M324 576H380 M324 581H380 M304 588H318 M318 586V591 M318 586H335 M318 591H335 M304 596H340
M418 517H421 M421 507V527 M421 507H437 M421 512H447 M421 517H505 M421 522H504 M421 527H452
M261 611H281 M281 600V616 M281 600H340 M281 606H330 M281 616H297 M297 611V621 M297 611H315 M297 616H315 M297 621H315
M261 647H281 M281 635V666 M281 635H299 M299 628V642 M299 628H329 M329 626V631 M329 626H350 M329 631H350 M299 642H330 M330 636V646 M330 636H370 M330 641H370 M330 646H370
M281 655H410 M325 651H370 M325 661H370 M281 666H410
M404 647H407 M407 632V663 M407 632H409 M407 660.5H443 M445 659V664 M443 660.5H445 M445 659H492 M445 664H508
M261 704H281 M281 679V724 M281 679H302 M302 674V684 M302 674H370 M302 679H370 M302 684H370
M281 694H296 M296 689V699 M296 689H310 M296 694H310 M296 699H310
M281 707H330 M330 704V709 M330 704H375 M330 709H375
M281 724H320 M320 714V734 M320 714H340 M320 719H345 M320 724H375 M320 729H375 M320 734H395
M261 747H291 M291 739V754 M291 739H345 M291 744H300 M291 749H300 M291 754H300
M261 782H289 M289 766V792 M289 766H331 M331 759V773 M331 759H400 M331 764H400 M331 769H400 M331 773H400
M289 792H332 M332 779V803 M332 779H385 M332 783H385 M332 788H385 M332 793H385 M332 798H385 M332 803H385
M261 873H285 M285 852V873 M285 852H308 M308 821V876
M308 821H322 M322 809V834 M322 809H335 M322 814H335 M322 819H335 M322 824H335 M322 829H335 M322 834H335 M363 821H420
M308 847H328 M328 839V854 M328 839H375 M328 844H375 M328 849H375 M328 854H375
M308 864H337 M337 861V866 M337 861H360 M337 866H360 M377 863H380 M380 858V868 M380 858H430 M380 863H430 M380 868H430
M308 873H335"/>
<path d="M373 503 C393 512 393 568 356 575" stroke="#6a9be0" stroke-width=".8" stroke-dasharray="1 .8" fill="none"/>
<rect x="237" y="684" width="20" height="6.5" fill="#dce6f2" stroke="#6aaa5a" stroke-width=".8"/><rect class="io" x="238.5" y="685.5" width="3.5" height="3.5"/><text x="243" y="689" lengthAdjust="spacingAndGlyphs" textLength="12">开发期</text>
<rect class="ir" x="263" y="515" width="3" height="2.5"/><text x="267" y="517.1" lengthAdjust="spacingAndGlyphs" textLength="13">开发计划</text>
<rect class="ir" x="285" y="435.5" width="3" height="2.5"/><text x="289" y="437.1" lengthAdjust="spacingAndGlyphs" textLength="21">开发任务清单</text>
<text x="287.5" y="472.1" lengthAdjust="spacingAndGlyphs" textLength="12">前端层</text><rect class="lab" x="287" y="474.5" width="13" height="3.5"/>
<rect class="ir" x="305" y="440" width="2.5" height="2.5"/><rect class="ir" x="308" y="440" width="2.5" height="2.5"/><text x="311" y="442.1" lengthAdjust="spacingAndGlyphs" textLength="34">页面框架搭建说明书</text>
<text x="305" y="447.1" lengthAdjust="spacingAndGlyphs" textLength="30">路由配置管理规范</text><text x="305" y="452.1" lengthAdjust="spacingAndGlyphs" textLength="25">组件封装规范表</text><rect class="iy" x="332" y="450" width="2.5" height="2.5"/>
<text x="305" y="457.1" lengthAdjust="spacingAndGlyphs" textLength="15">样式管理</text><text x="305" y="462.1" lengthAdjust="spacingAndGlyphs" textLength="15">状态管理</text>
<rect class="lab" x="305" y="463.5" width="20" height="4"/><text x="306" y="466.5" lengthAdjust="spacingAndGlyphs" textLength="18">请求封装层</text>
<text x="305" y="471.1" lengthAdjust="spacingAndGlyphs" textLength="15">权限控制</text>
<rect class="lab" x="305" y="473.5" width="15" height="4"/><text x="306" y="476.5" lengthAdjust="spacingAndGlyphs" textLength="13">国际化包</text>
<text x="305" y="480.1" lengthAdjust="spacingAndGlyphs" textLength="32">表单校验规则配置表</text><text x="305" y="485.1" lengthAdjust="spacingAndGlyphs" textLength="40">列表分页与筛选排序功能</text>
<rect class="lab" x="308" y="486.2" width="37" height="4"/><text x="309" y="489.2" lengthAdjust="spacingAndGlyphs" textLength="35">图表组件与数据可视化</text>
<text x="317" y="492.1" lengthAdjust="spacingAndGlyphs" textLength="28">文件上传下载功能</text><text x="305" y="498.1" lengthAdjust="spacingAndGlyphs" textLength="10">打包器</text><text x="316" y="501.1" lengthAdjust="spacingAndGlyphs" textLength="14">构建工具</text>
<text x="332" y="498.1" lengthAdjust="spacingAndGlyphs" textLength="63">务调度消息通知日志审计资源监控订单</text><text x="332" y="503.1" lengthAdjust="spacingAndGlyphs" textLength="63">静态资源部署到内容分发网络节点说明</text>
<rect class="ib" x="284" y="534" width="3" height="2.5"/><text x="288" y="536.1" lengthAdjust="spacingAndGlyphs" textLength="10">后端层</text><rect class="lab" x="284" y="538.5" width="14" height="3.5"/>
<rect class="ir" x="305" y="506" width="2.5" height="2.5"/><text x="309" y="508.1" lengthAdjust="spacingAndGlyphs" textLength="16">框架搭建</text>
<text x="305" y="518.1" lengthAdjust="spacingAndGlyphs" textLength="17">数据访问层</text><text x="326" y="513.1" lengthAdjust="spacingAndGlyphs" textLength="9">实体</text><text x="326" y="518.1" lengthAdjust="spacingAndGlyphs" textLength="9">映射</text><text x="326" y="523.1" lengthAdjust="spacingAndGlyphs" textLength="9">仓储</text>
<text x="305" y="536.1" lengthAdjust="spacingAndGlyphs" textLength="15">服务层级</text><text x="322" y="527.1" lengthAdjust="spacingAndGlyphs" textLength="13">事务管理</text><text x="322" y="536.1" lengthAdjust="spacingAndGlyphs" textLength="13">缓存管理</text>
<text x="342" y="532.1" lengthAdjust="spacingAndGlyphs" textLength="43">本地缓存与分布式缓存策略</text><text x="342" y="537.1" lengthAdjust="spacingAndGlyphs" textLength="43">缓存一致性保障机制说明</text><text x="322" y="543.1" lengthAdjust="spacingAndGlyphs" textLength="13">异步处理</text>
<text x="305" y="551.1" lengthAdjust="spacingAndGlyphs" textLength="15">控制层级</text><rect class="lab" x="305" y="553.5" width="15" height="3.5"/><text x="326" y="547.1" lengthAdjust="spacingAndGlyphs" textLength="14">参数校验</text><text x="326" y="552.1" lengthAdjust="spacingAndGlyphs" textLength="14">响应封装</text>
<text x="305" y="562.1" lengthAdjust="spacingAndGlyphs" textLength="14">定时任务</text><text x="322" y="560.1" lengthAdjust="spacingAndGlyphs" textLength="48">定时任务调度配置与说明文档</text><text x="322" y="565.1" lengthAdjust="spacingAndGlyphs" textLength="48">任务执行日志记录与查询说明</text>
<text x="285.5" y="582.1" lengthAdjust="spacingAndGlyphs" textLength="12">测试项</text><rect class="lab" x="285" y="584.5" width="13" height="3.5"/>
<rect class="ir" x="307" y="568" width="2.5" height="2.5"/><text x="311" y="570.1" lengthAdjust="spacingAndGlyphs" textLength="39">测试用例编写规范与模板</text>
<text x="307" y="576.1" lengthAdjust="spacingAndGlyphs" textLength="16">单元测试</text><text x="326" y="575.1" lengthAdjust="spacingAndGlyphs" textLength="54">核心业务逻辑单元测试覆盖率要求</text><text x="326" y="580.1" lengthAdjust="spacingAndGlyphs" textLength="54">接口自动化测试脚本编写说明文档</text>
<text x="307" y="587.1" lengthAdjust="spacingAndGlyphs" textLength="10">压力测</text><text x="320" y="585.1" lengthAdjust="spacingAndGlyphs" textLength="15">并发数量</text><text x="320" y="590.1" lengthAdjust="spacingAndGlyphs" textLength="15">吞吐能力</text>
<text x="307" y="595.1" lengthAdjust="spacingAndGlyphs" textLength="33">验收测试报告与总结</text>
<rect x="407" y="514" width="11" height="5.5" fill="#eef6e8" stroke="#6aaa5a" stroke-width=".5"/><rect class="iy" x="408" y="515" width="3" height="3"/><text x="412" y="518.3" lengthAdjust="spacingAndGlyphs" textLength="5">注</text>
<text x="422" y="506.1" lengthAdjust="spacingAndGlyphs" textLength="15">进度管理</text><text x="422" y="511.1" lengthAdjust="spacingAndGlyphs" textLength="25">每周例会记录表</text><text x="422" y="516.1" lengthAdjust="spacingAndGlyphs" textLength="83">擎数据管理用户中心系统配置接口服务运营报表等</text><text x="422" y="521.1" lengthAdjust="spacingAndGlyphs" textLength="82">每个迭代结束后进行回顾总结并调整后续开发计划</text><text x="422" y="526.1" lengthAdjust="spacingAndGlyphs" textLength="30">风险跟踪与记录表</text>
<rect class="io" x="263" y="608" width="3" height="2.5"/><text x="267" y="610.1" lengthAdjust="spacingAndGlyphs" textLength="11">环境表</text>
<rect class="ir" x="283" y="597" width="2.5" height="2.5"/><text x="287" y="599.1" lengthAdjust="spacingAndGlyphs" textLength="53">开发测试生产环境隔离配置说明</text>
<text x="283" y="605.1" lengthAdjust="spacingAndGlyphs" textLength="47">服务器资源申请与分配管理表</text><text x="283" y="615.1" lengthAdjust="spacingAndGlyphs" textLength="12">工具集</text>
<text x="300" y="610.1" lengthAdjust="spacingAndGlyphs" textLength="15">版本管理</text><text x="300" y="615.1" lengthAdjust="spacingAndGlyphs" textLength="15">构建工具</text><text x="300" y="620.1" lengthAdjust="spacingAndGlyphs" textLength="15">部署工具</text>
<rect class="iy" x="263" y="644" width="3" height="2.5"/><text x="267" y="646.1" lengthAdjust="spacingAndGlyphs" textLength="13">规范体系</text>
<text x="283.5" y="634.1" lengthAdjust="spacingAndGlyphs" textLength="13">编码规范</text><rect class="lab" x="283" y="636.5" width="14" height="3.5"/>
<text x="302" y="627.1" lengthAdjust="spacingAndGlyphs" textLength="8">命名</text><rect class="io" x="316" y="625" width="2.5" height="2.5"/><text x="319" y="627.1" lengthAdjust="spacingAndGlyphs" textLength="9">规则</text>
<text x="332" y="625.1" lengthAdjust="spacingAndGlyphs" textLength="18">驼峰命名法</text><text x="332" y="630.1" lengthAdjust="spacingAndGlyphs" textLength="18">常量全大写</text>
<text x="302" y="641.1" lengthAdjust="spacingAndGlyphs" textLength="8">注释</text><text x="316" y="641.1" lengthAdjust="spacingAndGlyphs" textLength="12">要求项</text>
<text x="332" y="635.1" lengthAdjust="spacingAndGlyphs" textLength="38">类与方法注释说明规范</text><text x="332" y="640.1" lengthAdjust="spacingAndGlyphs" textLength="38">复杂逻辑行内注释说明</text><text x="332" y="645.1" lengthAdjust="spacingAndGlyphs" textLength="38">修改记录与作者信息表</text>
<text x="283.5" y="654.1" lengthAdjust="spacingAndGlyphs" textLength="16">提交规范</text><rect class="lab" x="283" y="656.5" width="17" height="3.5"/>
<text x="328" y="650.1" lengthAdjust="spacingAndGlyphs" textLength="42">提交信息格式规范说明书</text><text x="305" y="654.1" lengthAdjust="spacingAndGlyphs" textLength="65">代码提交前必须通过本地测试和静态检查</text><text x="328" y="660.1" lengthAdjust="spacingAndGlyphs" textLength="42">分支合并流程与冲突处理</text><rect class="io" x="375" y="652" width="3" height="2.5"/>
<text x="283.5" y="665.1" lengthAdjust="spacingAndGlyphs" textLength="16">评审规范</text><rect class="lab" x="283" y="667.5" width="17" height="3.5"/>
<text x="307" y="665.1" lengthAdjust="spacingAndGlyphs" textLength="63">代码评审需至少两名成员参与并记录意见</text><rect class="io" x="375" y="663" width="3" height="2.5"/>
<rect x="395" y="644.5" width="9" height="5.5" fill="#eef6e8" stroke="#6aaa5a" stroke-width=".5"/><text x="397" y="648.7" lengthAdjust="spacingAndGlyphs" textLength="6">表</text>
<text class="t" x="409.5" y="633" lengthAdjust="spacingAndGlyphs" textLength="11">规范表</text><rect class="iy" x="421" y="630.5" width="2.5" height="2.5"/>
<rect x="419" y="639.5" width="63" height="15.5" fill="#dbe7f5"/>
<g stroke="#6aaa5a" stroke-width=".6" fill="none"><rect x="409" y="634.5" width="73" height="20.5"/><path d="M409 639.5H482 M409 644.5H482 M409 649.8H482 M419 634.5V655 M427 634.5V655 M468 634.5V655"/></g>
<g class="t">
<text y="638.4"><tspan x="420">级别</tspan><tspan x="440">说明内容</tspan><tspan x="469">备注</tspan></text>
<text y="643.4"><tspan x="410">一级</tspan><tspan x="420">高</tspan><tspan x="428">必</tspan><tspan x="469">强制执行</tspan></text>
<text y="648.6"><tspan x="410">二级</tspan><tspan x="420">中</tspan><tspan x="428">建议遵循统一编码规范要求</tspan><tspan x="469">推荐</tspan></text>
<text y="654"><tspan x="410">三级</tspan><tspan x="420">低</tspan><tspan x="428">可选参考规范说明文字</tspan><tspan x="469">参考</tspan></text>
</g>
<text x="410" y="659.6" lengthAdjust="spacingAndGlyphs" textLength="33">规范说明补充表格式</text><text x="447" y="658.1" lengthAdjust="spacingAndGlyphs" textLength="45">违规处理方式说明文档附件</text><text x="448" y="663.1" lengthAdjust="spacingAndGlyphs" textLength="60">定期检查并通报规范执行情况说明</text>
<rect class="ib" x="263" y="701" width="3" height="2.5"/><text x="267" y="703.1" lengthAdjust="spacingAndGlyphs" textLength="11">部署项</text>
<text x="283.5" y="678.1" lengthAdjust="spacingAndGlyphs" textLength="17">部署流程图</text>
<text x="305" y="673.1" lengthAdjust="spacingAndGlyphs" textLength="65">构建镜像并推送至镜像仓库以及版本号</text><text x="305" y="678.1" lengthAdjust="spacingAndGlyphs" textLength="65">更新配置文件并执行发布脚本说明文档</text><text x="305" y="683.1" lengthAdjust="spacingAndGlyphs" textLength="65">发布后进行健康检查与回滚预案说明文档</text>
<text x="283.5" y="693.1" lengthAdjust="spacingAndGlyphs" textLength="12">环境表</text><text x="297.5" y="688.1" lengthAdjust="spacingAndGlyphs" textLength="12">开发机</text><text x="297.5" y="693.1" lengthAdjust="spacingAndGlyphs" textLength="12">测试机</text><text x="297.5" y="698.1" lengthAdjust="spacingAndGlyphs" textLength="12">生产机</text>
<text x="283.5" y="706.1" lengthAdjust="spacingAndGlyphs" textLength="17">部署方式表</text><rect class="io" x="312" y="704" width="2.5" height="2.5"/><text x="317" y="706.1" lengthAdjust="spacingAndGlyphs" textLength="12">容器化</text>
<text x="332" y="703.1" lengthAdjust="spacingAndGlyphs" textLength="43">容器编排与自动扩缩容策略</text><text x="332" y="708.1" lengthAdjust="spacingAndGlyphs" textLength="43">灰度发布与蓝绿部署方案</text>
<text x="283.5" y="723.1" lengthAdjust="spacingAndGlyphs" textLength="17">监控告警项</text><rect class="lab" x="283" y="725.5" width="17" height="3.5"/>
<text x="323" y="713.1" lengthAdjust="spacingAndGlyphs" textLength="17">指标项目表</text><text x="323" y="718.1" lengthAdjust="spacingAndGlyphs" textLength="22">告警规则配置</text><text x="323" y="723.1" lengthAdjust="spacingAndGlyphs" textLength="52">服务器资源使用率监控说明文档</text><text x="323" y="728.1" lengthAdjust="spacingAndGlyphs" textLength="52">应用性能与错误率监控说明文档</text><text x="323" y="733.1" lengthAdjust="spacingAndGlyphs" textLength="72">日志集中采集与分析平台接入说明文档内容</text>
<rect class="ig" x="263" y="744" width="3" height="2.5"/><text x="267" y="746.1" lengthAdjust="spacingAndGlyphs" textLength="23">运维保障体系</text>
<rect class="io" x="292" y="736" width="2.5" height="2.5"/><text x="296" y="738.1" lengthAdjust="spacingAndGlyphs" textLength="49">七乘二十四小时值班响应机制</text><text x="292" y="743.1" lengthAdjust="spacingAndGlyphs" textLength="8">备份</text><text x="292" y="748.1" lengthAdjust="spacingAndGlyphs" textLength="8">容灾</text><text x="292" y="753.1" lengthAdjust="spacingAndGlyphs" textLength="8">巡检</text>
<rect class="ik" x="263" y="779" width="3" height="2.5"/><text x="267" y="781.1" lengthAdjust="spacingAndGlyphs" textLength="18">文档交付物</text>
<text x="292" y="765.1" lengthAdjust="spacingAndGlyphs" textLength="18">技术文档集</text><text x="316" y="765.1" lengthAdjust="spacingAndGlyphs" textLength="14">清单列表</text>
<text x="333" y="758.1" lengthAdjust="spacingAndGlyphs" textLength="67">系统架构设计说明书与接口设计文档说明</text><text x="333" y="763.1" lengthAdjust="spacingAndGlyphs" textLength="67">数据库设计文档与数据字典及命名规范表</text>
<rect class="lab" x="333" y="765.5" width="50" height="4"/><text x="334" y="768.5" lengthAdjust="spacingAndGlyphs" textLength="48">部署手册与运维手册操作指南</text>
<text x="333" y="772.1" lengthAdjust="spacingAndGlyphs" textLength="67">测试报告与验收报告文档及问题跟踪记录</text>
<text x="292" y="791.1" lengthAdjust="spacingAndGlyphs" textLength="33">用户文档清单与说明</text>
<text x="337" y="778.1" lengthAdjust="spacingAndGlyphs" textLength="48">用户操作手册与功能说明文档</text><text x="337" y="782.1" lengthAdjust="spacingAndGlyphs" textLength="48">管理员手册与后台配置说明书</text><text x="337" y="787.1" lengthAdjust="spacingAndGlyphs" textLength="48">常见问题解答与处理方法说明</text><text x="337" y="792.1" lengthAdjust="spacingAndGlyphs" textLength="48">培训材料与课程安排说明文档</text><text x="337" y="797.1" lengthAdjust="spacingAndGlyphs" textLength="48">版本更新说明与变更记录文档</text><text x="337" y="802.1" lengthAdjust="spacingAndGlyphs" textLength="48">视频教程与在线帮助说明文档</text>
<rect class="ik" x="263" y="870" width="3" height="2.5"/><text x="267" y="872.1" lengthAdjust="spacingAndGlyphs" textLength="18">项目验收期</text>
<text x="288.5" y="851.1" lengthAdjust="spacingAndGlyphs" textLength="16">验收流程</text><rect class="lab" x="288" y="853.5" width="17" height="3.5"/>
<text x="312" y="820.1" lengthAdjust="spacingAndGlyphs" textLength="10">标准项</text>
<text x="323" y="808.1" lengthAdjust="spacingAndGlyphs" textLength="12">功能项</text><text x="323" y="813.1" lengthAdjust="spacingAndGlyphs" textLength="12">性能项</text><text x="323" y="818.1" lengthAdjust="spacingAndGlyphs" textLength="12">安全项</text><text x="323" y="823.1" lengthAdjust="spacingAndGlyphs" textLength="12">兼容性</text><text x="323" y="828.1" lengthAdjust="spacingAndGlyphs" textLength="12">文档项</text><text x="323" y="833.1" lengthAdjust="spacingAndGlyphs" textLength="12">培训项</text>
<rect x="353" y="818.5" width="10" height="5" fill="#fbeee0" stroke="#e08040" stroke-width=".5"/><rect class="io" x="354" y="819.5" width="2.5" height="2.5"/><text x="357.5" y="822.4" lengthAdjust="spacingAndGlyphs" textLength="5">注</text>
<text x="367" y="820.1" lengthAdjust="spacingAndGlyphs" textLength="53">所有验收项均需签字确认并存档</text>
<text x="312" y="846.1" lengthAdjust="spacingAndGlyphs" textLength="10">流程图</text>
<text x="332" y="838.1" lengthAdjust="spacingAndGlyphs" textLength="43">提交验收申请材料及其附件</text><text x="332" y="843.1" lengthAdjust="spacingAndGlyphs" textLength="43">组织专家评审会议形成纪要</text><text x="332" y="848.1" lengthAdjust="spacingAndGlyphs" textLength="43">问题整改与复验及结果确认</text><text x="332" y="853.1" lengthAdjust="spacingAndGlyphs" textLength="43">出具验收报告并归档保存好</text>
<text x="312" y="863.1" lengthAdjust="spacingAndGlyphs" textLength="22">交付物清单表</text><text x="340" y="860.1" lengthAdjust="spacingAndGlyphs" textLength="20">源代码仓库</text><text x="340" y="865.1" lengthAdjust="spacingAndGlyphs" textLength="20">安装部署包</text>
<rect x="367" y="860.5" width="10" height="5" fill="#eef6e8" stroke="#6aaa5a" stroke-width=".5"/><text x="369.5" y="864.4" lengthAdjust="spacingAndGlyphs" textLength="5">注</text>
<text x="382" y="857.1" lengthAdjust="spacingAndGlyphs" textLength="48">交付清单逐项核对并签字确认</text><text x="382" y="862.1" lengthAdjust="spacingAndGlyphs" textLength="48">交付介质与版本号对应关系表</text><text x="382" y="867.1" lengthAdjust="spacingAndGlyphs" textLength="48">交付签收记录与归档管理说明</text>
<text x="312" y="872.1" lengthAdjust="spacingAndGlyphs" textLength="22">售后服务期</text>

<!-- center -->
<ellipse cx="214" cy="343.5" rx="23" ry="7.2" fill="#cfe8b8" stroke="#8cbf70" stroke-width=".9"/>
<circle cx="199" cy="343.5" r="1.8" fill="#f0901c"/>
<text x="202.5" y="345.5" lengthAdjust="spacingAndGlyphs" textLength="28" style="font-size:5px">智能运营平台</text>
</svg>
</body></html>
